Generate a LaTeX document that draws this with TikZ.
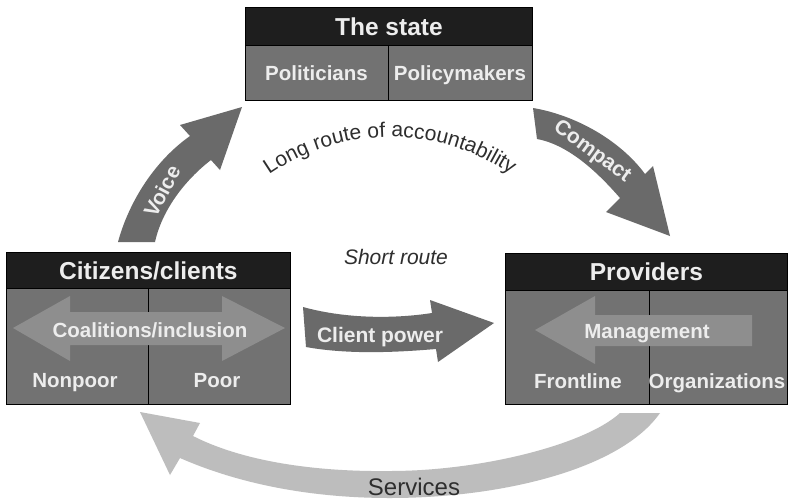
\documentclass[tikz,border=0pt]{standalone}
\usepackage{fontspec}
\setmainfont{Liberation Sans}
\usetikzlibrary{decorations.text}

\definecolor{hdrfill}{HTML}{1E1E1E}
\definecolor{cellfill}{HTML}{727272}
\definecolor{arrowdark}{HTML}{6A6A6A}
\definecolor{innerarrow}{HTML}{8E8E8E}
\definecolor{svcfill}{HTML}{BDBDBD}
\definecolor{inktext}{HTML}{2E2E2E}
\definecolor{paletext}{HTML}{EDEDED}

\begin{document}
\begin{tikzpicture}[x=1pt,y=-1pt,
  hdr/.style={draw=black, line width=0.8pt, fill=hdrfill, text=paletext,
    font=\bfseries\fontsize{24.5}{24.5}\selectfont, inner sep=0pt, anchor=north west},
  cell/.style={draw=black, line width=0.8pt, fill=cellfill, inner sep=0pt, anchor=north west},
  lbl/.style={text=paletext, font=\bfseries\fontsize{20.5}{20.5}\selectfont, inner sep=0pt, anchor=base},
  arrowlbl/.style={text=paletext, font=\bfseries\fontsize{21}{21}\selectfont, inner sep=0pt},
  plain/.style={text=inktext, inner sep=0pt, anchor=base}
]
\fill[white] (0,0) rectangle (789,501);
\useasboundingbox (0,0) rectangle (789,501);

% ---- The state ----
\node[hdr, minimum width=287pt, minimum height=38pt] (stateHead) at (245,7) {The state};
\node[cell, minimum width=143pt, minimum height=55pt] (stateLeft) at (245,45) {};
\node[cell, minimum width=144pt, minimum height=55pt] (stateRight) at (388,45) {};
\node[lbl] (politicians) at (316.5,80) {Politicians};
\node[lbl] (policymakers) at (460,80) {Policymakers};

% ---- Citizens/clients ----
\node[hdr, minimum width=284pt, minimum height=36pt] (citHead) at (6,252) {Citizens/clients};
\node[cell, minimum width=142pt, minimum height=116pt] (citLeft) at (6,288) {};
\node[cell, minimum width=142pt, minimum height=116pt] (citRight) at (148,288) {};
\fill[innerarrow] (13,328) -- (70,296) -- (70,312) -- (222,312) -- (222,296) -- (285,328)
  -- (222,361) -- (222,345) -- (70,345) -- (70,361) -- cycle;
\node[lbl] (coalitions) at (150,337) {Coalitions/inclusion};
\node[lbl] (nonpoor) at (75,387) {Nonpoor};
\node[lbl] (poor) at (217,387) {Poor};

% ---- Providers ----
\node[hdr, minimum width=282pt, minimum height=37pt] (provHead) at (505,253) {Providers};
\node[cell, minimum width=144pt, minimum height=114pt] (provLeft) at (505,290) {};
\node[cell, minimum width=138pt, minimum height=114pt] (provRight) at (649,290) {};
\fill[innerarrow] (535,330) -- (595,296) -- (595,315) -- (752,315) -- (752,346)
  -- (595,346) -- (595,364) -- cycle;
\node[lbl] (management) at (647,338) {Management};
\node[lbl] (frontline) at (578,388) {Frontline};
\node[lbl] (organizations) at (717,388) {Organizations};

% ---- Voice ----
\fill[arrowdark] (118,242) .. controls (128,205) and (152,163) .. (190,136)
  -- (180,125) -- (242,107) -- (220,170) -- (211,160)
  .. controls (185,180) and (162,210) .. (155,242) -- cycle;
\node[arrowlbl, rotate=62] (voice) at (162,191) {Voice};

% ---- Compact ----
\fill[arrowdark] (533,108) .. controls (575,115) and (620,140) .. (645,174)
  -- (653,166) -- (670,236) -- (606,212) -- (620,198)
  .. controls (600,175) and (570,145) .. (537,139) -- cycle;
\node[arrowlbl, rotate=-36] (compact) at (592,152) {Compact};

% ---- Client power ----
\fill[arrowdark] (303,307) .. controls (350,320) and (400,318) .. (432,313)
  -- (430,300) -- (494,323) -- (438,362) -- (436,349)
  .. controls (400,352) and (350,355) .. (306,347) -- cycle;
\node[arrowlbl, anchor=base] (clientpower) at (380,342) {Client power};

% ---- Services ----
\fill[svcfill] (660,413) .. controls (620,470) and (500,498) .. (390,498)
  .. controls (300,498) and (230,480) .. (180,458)
  -- (170,475) -- (140,412) -- (200,423) -- (193,436)
  .. controls (240,460) and (310,472) .. (390,471)
  .. controls (480,471) and (585,445) .. (620,413) -- cycle;
\node[plain, font=\fontsize{24}{24}\selectfont] (services) at (414,495) {Services};

% ---- Route labels ----
\path[decorate, decoration={text along path, text align=center,
  text={|\fontsize{21}{21}\selectfont\color{inktext}|Long route of accountability}}]
  (390,349) ++(-150:212) arc[start angle=-150, end angle=-30, radius=212];
\node[plain, font=\itshape\fontsize{21}{21}\selectfont] (shortroute) at (396,264) {Short route};

\end{tikzpicture}
\end{document}
